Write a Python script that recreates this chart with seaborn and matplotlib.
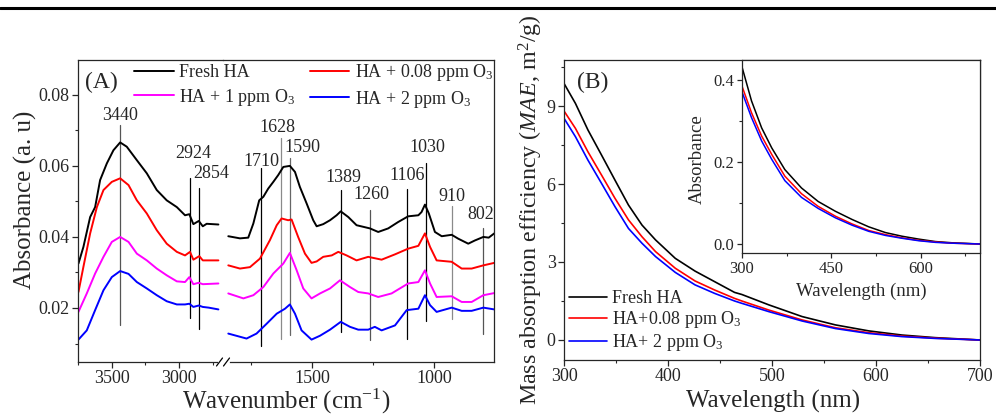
import numpy as np
import pandas as pd
import matplotlib
matplotlib.use("Agg")
import matplotlib.pyplot as plt
from matplotlib.lines import Line2D
from matplotlib.ticker import MultipleLocator, FixedLocator, FormatStrFormatter
import seaborn as sns

# ---------------- DATA: panel A (FTIR) ----------------
# high-wavenumber segment
fresh_w_hi = [3748, 3711, 3661, 3624, 3587, 3537, 3488, 3438, 3389, 3314, 3240, 3166, 3092, 3017, 2956, 2924, 2894, 2854, 2824, 2795, 2708]
fresh_a_hi = [0.0325, 0.0372, 0.0456, 0.0484, 0.0560, 0.0607, 0.0644, 0.0666, 0.0654, 0.0616, 0.0579, 0.0532, 0.0503, 0.0484, 0.0461, 0.0464, 0.0436, 0.0445, 0.0430, 0.0437, 0.0435]
o008_w_hi = [3748, 3711, 3661, 3611, 3562, 3500, 3438, 3376, 3314, 3240, 3166, 3092, 3017, 2956, 2919, 2894, 2850, 2824, 2708]
o008_a_hi = [0.0245, 0.0316, 0.0410, 0.0484, 0.0532, 0.0555, 0.0565, 0.0546, 0.0503, 0.0466, 0.0419, 0.0381, 0.0358, 0.0348, 0.0358, 0.0336, 0.0346, 0.0334, 0.0334]
o1_w_hi = [3748, 3686, 3624, 3562, 3500, 3438, 3376, 3314, 3240, 3166, 3092, 3017, 2956, 2924, 2894, 2854, 2824, 2708]
o1_a_hi = [0.0189, 0.0241, 0.0297, 0.0344, 0.0386, 0.0400, 0.0386, 0.0353, 0.0334, 0.0311, 0.0292, 0.0275, 0.0273, 0.0287, 0.0267, 0.0271, 0.0267, 0.0269]
o2_w_hi = [3748, 3686, 3624, 3562, 3500, 3438, 3376, 3314, 3240, 3166, 3092, 3017, 2956, 2924, 2894, 2854, 2824, 2780, 2708]
o2_a_hi = [0.0111, 0.0137, 0.0194, 0.0250, 0.0287, 0.0304, 0.0296, 0.0273, 0.0255, 0.0236, 0.0219, 0.0210, 0.0210, 0.0212, 0.0203, 0.0207, 0.0203, 0.0201, 0.0196]

# low-wavenumber segment
fresh_w_lo = [1845, 1797, 1763, 1742, 1718, 1701, 1681, 1660, 1640, 1619, 1592, 1571, 1551, 1523, 1496, 1482, 1455, 1427, 1400, 1383, 1352, 1318, 1263, 1229, 1188, 1147, 1106, 1064, 1051, 1037, 1021, 996, 968, 927, 900, 859, 832, 797, 775, 752]
fresh_a_lo = [0.0402, 0.0396, 0.0398, 0.0438, 0.0503, 0.0513, 0.0536, 0.0555, 0.0574, 0.0597, 0.0600, 0.0583, 0.0541, 0.0494, 0.0447, 0.0430, 0.0436, 0.0447, 0.0461, 0.0472, 0.0456, 0.0433, 0.0424, 0.0414, 0.0424, 0.0442, 0.0458, 0.0461, 0.0470, 0.0491, 0.0466, 0.0414, 0.0402, 0.0406, 0.0395, 0.0381, 0.0390, 0.0400, 0.0398, 0.0410]
o008_w_lo = [1845, 1797, 1756, 1715, 1674, 1646, 1626, 1599, 1585, 1558, 1530, 1503, 1482, 1455, 1420, 1393, 1359, 1318, 1270, 1215, 1160, 1106, 1064, 1037, 1016, 989, 927, 886, 845, 797, 752]
o008_a_lo = [0.0320, 0.0311, 0.0315, 0.0339, 0.0391, 0.0433, 0.0452, 0.0447, 0.0449, 0.0400, 0.0353, 0.0327, 0.0331, 0.0344, 0.0348, 0.0358, 0.0348, 0.0334, 0.0344, 0.0336, 0.0351, 0.0367, 0.0375, 0.0410, 0.0372, 0.0334, 0.0330, 0.0311, 0.0311, 0.0320, 0.0327]
o1_w_lo = [1845, 1783, 1742, 1701, 1660, 1619, 1592, 1564, 1537, 1503, 1468, 1427, 1386, 1345, 1311, 1270, 1229, 1174, 1106, 1064, 1037, 1016, 989, 927, 886, 845, 797, 752]
o1_a_lo = [0.0241, 0.0227, 0.0236, 0.0259, 0.0297, 0.0325, 0.0355, 0.0306, 0.0255, 0.0227, 0.0241, 0.0255, 0.0278, 0.0259, 0.0245, 0.0241, 0.0231, 0.0241, 0.0269, 0.0273, 0.0306, 0.0269, 0.0231, 0.0233, 0.0217, 0.0217, 0.0236, 0.0242]
o2_w_lo = [1845, 1770, 1729, 1687, 1646, 1612, 1592, 1571, 1544, 1503, 1468, 1427, 1383, 1345, 1311, 1270, 1243, 1215, 1160, 1112, 1064, 1037, 1016, 989, 927, 886, 845, 797, 752]
o2_a_lo = [0.0128, 0.0114, 0.0128, 0.0156, 0.0184, 0.0198, 0.0210, 0.0184, 0.0137, 0.0111, 0.0122, 0.0139, 0.0161, 0.0147, 0.0139, 0.0139, 0.0147, 0.0137, 0.0151, 0.0194, 0.0198, 0.0236, 0.0208, 0.0189, 0.0201, 0.0192, 0.0192, 0.0201, 0.0196]

series_A = ["Fresh HA", "HA + 0.08 ppm O$_3$", "HA + 1 ppm O$_3$", "HA + 2 ppm O$_3$"]

peak_labels = ["3440", "2924", "2854", "1710", "1628", "1590", "1389", "1260", "1106", "1030", "910", "802"]
peak_pos = [3438, 2919, 2854, 1711, 1630, 1593, 1383, 1263, 1110, 1034, 927, 799]
peak_top = [0.0715, 0.0567, 0.0539, 0.0593, 0.0679, 0.0621, 0.0532, 0.0475, 0.0536, 0.0607, 0.0487, 0.0424]
peak_bottom = [0.0151, 0.0173, 0.0142, 0.0093, 0.0114, 0.0123, 0.0133, 0.0109, 0.0114, 0.0164, 0.0170, 0.0128]

# ---------------- DATA: panel B (UV-vis) ----------------
lam = [300, 311, 323, 336, 349, 362, 375, 388, 407, 426, 445, 464, 471, 497, 529, 561, 593, 625, 657, 700]
mae_fresh = [9.87, 9.10, 8.08, 7.12, 6.15, 5.19, 4.42, 3.85, 3.14, 2.65, 2.24, 1.83, 1.75, 1.35, 0.90, 0.58, 0.35, 0.19, 0.09, 0.0]
mae_008 = [8.81, 8.14, 7.24, 6.35, 5.45, 4.62, 3.97, 3.40, 2.76, 2.27, 1.92, 1.60, 1.50, 1.15, 0.77, 0.47, 0.28, 0.15, 0.07, 0.0]
mae_2 = [8.53, 7.82, 6.92, 6.03, 5.13, 4.29, 3.72, 3.21, 2.60, 2.12, 1.79, 1.50, 1.41, 1.09, 0.73, 0.44, 0.25, 0.13, 0.06, 0.0]
series_B = ["Fresh HA", "HA+0.08 ppm O$_3$", "HA+ 2 ppm O$_3$"]

lam_in = [300, 316, 333, 350, 372, 400, 428, 457, 485, 513, 541, 569, 597, 625, 653, 700]
abs_fresh = [0.433, 0.350, 0.284, 0.235, 0.182, 0.137, 0.104, 0.080, 0.060, 0.042, 0.028, 0.019, 0.012, 0.006, 0.003, 0.0]
abs_008 = [0.386, 0.321, 0.264, 0.219, 0.166, 0.123, 0.092, 0.068, 0.049, 0.033, 0.023, 0.015, 0.009, 0.005, 0.002, 0.0]
abs_2 = [0.372, 0.309, 0.252, 0.207, 0.155, 0.114, 0.087, 0.064, 0.046, 0.031, 0.021, 0.014, 0.008, 0.004, 0.002, 0.0]

# ---------------- STYLE ----------------
sns.set_style("ticks")
plt.rcParams["font.family"] = ["Liberation Serif", "DejaVu Serif"]
plt.rcParams["mathtext.fontset"] = "custom"
plt.rcParams["mathtext.rm"] = "Liberation Serif"
plt.rcParams["mathtext.it"] = "Liberation Serif:italic"
plt.rcParams["axes.linewidth"] = 0.9

W, H = 996, 419
fig = plt.figure(figsize=(W / 100, H / 100), dpi=100)

def fx(px):
    return px / W

def fy(py):
    return 1 - py / H

colA = ["#000000", "#ff0000", "#ff00ff", "#0000ff"]
colB = ["#000000", "#ff0000", "#0000ff"]

axL = fig.add_axes([fx(77.5), fy(362), fx(222.7 - 77.5), (362 - 60) / H])
axR = fig.add_axes([fx(222.7), fy(362), fx(494.3 - 222.7), (362 - 60) / H])

hi_sets = [(fresh_w_hi, fresh_a_hi), (o008_w_hi, o008_a_hi), (o1_w_hi, o1_a_hi), (o2_w_hi, o2_a_hi)]
lo_sets = [(fresh_w_lo, fresh_a_lo), (o008_w_lo, o008_a_lo), (o1_w_lo, o1_a_lo), (o2_w_lo, o2_a_lo)]
for (w, a), c, name in zip(hi_sets, colA, series_A):
    sns.lineplot(x=w, y=a, ax=axL, color=c, lw=1.4, label=name, legend=False, sort=False, estimator=None)
for (w, a), c in zip(lo_sets, colA):
    sns.lineplot(x=w, y=a, ax=axR, color=c, lw=1.4, legend=False, sort=False, estimator=None)

ylimA = (0.0048, 0.0898)
for ax in (axL, axR):
    ax.set_ylim(*ylimA)
    ax.set_xlabel("")
    ax.set_ylabel("")
axL.set_xlim(3755, 2676)
axR.set_xlim(1868, 752)

axL.xaxis.set_major_locator(FixedLocator([3500, 3000]))
axL.xaxis.set_minor_locator(FixedLocator([3750, 3250, 2750]))
axR.xaxis.set_major_locator(FixedLocator([1500, 1000]))
axR.xaxis.set_minor_locator(FixedLocator([1750, 1250]))
axL.yaxis.set_major_locator(MultipleLocator(0.02))
axL.yaxis.set_minor_locator(MultipleLocator(0.01))
axL.yaxis.set_major_formatter(FormatStrFormatter("%.2f"))

axL.spines["right"].set_visible(False)
axR.spines["left"].set_visible(False)
axR.tick_params(axis="y", which="both", left=False, labelleft=False)
axL.spines["bottom"].set_bounds(3755, 2718)
axR.spines["bottom"].set_bounds(1838, 752)

for ax in (axL, axR):
    ax.tick_params(axis="both", which="major", direction="out", length=4, width=0.9, labelsize=13, pad=2)
    ax.tick_params(axis="both", which="minor", direction="out", length=2.5, width=0.8)
    ax.set_facecolor("none")

# peak marker lines
gray_peaks = {"3440": "#555555", "1628": "#8a8a8a", "1590": "#666666", "1260": "#555555", "910": "#8a8a8a", "802": "#555555"}
label_xy = {"3440": (3438, 0.0743), "2924": (2896, 0.0636), "2854": (2763, 0.0579),
            "1710": (1711, 0.0613), "1628": (1643, 0.0709), "1590": (1542, 0.0653),
            "1389": (1374, 0.0568), "1260": (1255, 0.0520), "1106": (1111, 0.0574),
            "1030": (1026, 0.0653), "910": (927, 0.0513), "802": (809, 0.0463)}
for lab, pos, top, bot in zip(peak_labels, peak_pos, peak_top, peak_bottom):
    ax = axL if pos > 2000 else axR
    ax.plot([pos, pos], [bot, top], color=gray_peaks.get(lab, "#000000"), lw=0.9, zorder=1)
    tx, ty = label_xy[lab]
    ax.text(tx, ty, lab, ha="center", va="center", fontsize=13, clip_on=False)

# break marks
for x0 in (216.5, 223.5):
    fig.add_artist(Line2D([fx(x0), fx(x0 + 6)], [fy(366), fy(358)], color="black", lw=0.9))

# legend A
hL = axL.get_lines()[:4]
order = [0, 2, 1, 3]
fig.legend([hL[i] for i in order], [series_A[i] for i in order], ncol=2, loc="upper left",
           bbox_to_anchor=(fx(134), fy(62)), frameon=False, fontsize=13,
           handlelength=2.2, handletextpad=0.3, columnspacing=0.8, labelspacing=0.32,
           borderpad=0, borderaxespad=0)

fig.text(fx(85), fy(82), "(A)", fontsize=17, ha="left", va="center")
fig.text(fx(25), fy(200), "Absorbance (a. u)", fontsize=18, rotation=90, ha="center", va="center")
fig.text(fx(286), fy(401), "Wavenumber (cm$^{-1}$)", fontsize=18, ha="center", va="center")

# ---------------- panel B ----------------
axB = fig.add_axes([fx(564), fy(360), fx(416), 300 / H])
for y, c, name in zip([mae_fresh, mae_008, mae_2], colB, series_B):
    sns.lineplot(x=lam, y=y, ax=axB, color=c, lw=1.2, label=name, legend=False, sort=False, estimator=None)
axB.set_xlim(300, 700)
axB.set_ylim(-0.77, 10.77)
axB.xaxis.set_major_locator(MultipleLocator(100))
axB.xaxis.set_minor_locator(MultipleLocator(50))
axB.yaxis.set_major_locator(MultipleLocator(3))
axB.yaxis.set_minor_locator(FixedLocator([1.5, 4.5, 7.5, 10.5]))
axB.tick_params(axis="both", which="major", direction="out", length=4, width=0.9, labelsize=13, pad=2)
axB.tick_params(axis="both", which="minor", direction="out", length=2.5, width=0.8)
axB.set_xlabel("")
axB.set_ylabel("")
for s in axB.spines.values():
    s.set_visible(True)
axB.legend(loc="lower left", bbox_to_anchor=(fx(569), fy(353)), bbox_transform=fig.transFigure,
           frameon=False, fontsize=13, handlelength=2.1, handletextpad=0.3, labelspacing=0.1,
           borderpad=0, borderaxespad=0)
fig.text(fx(577), fy(82), "(B)", fontsize=17, ha="left", va="center")
fig.text(fx(531), fy(210), "Mass absorption efficiency ($MAE$, m$^2$/g)", fontsize=17.3, rotation=90,
         ha="center", va="center")
fig.text(fx(773), fy(401), "Wavelength (nm)", fontsize=18, ha="center", va="center")

# inset
axI = fig.add_axes([fx(742), fy(253), fx(238), 193 / H])
for y, c in zip([abs_fresh, abs_008, abs_2], colB):
    sns.lineplot(x=lam_in, y=y, ax=axI, color=c, lw=1.1, legend=False, sort=False, estimator=None)
axI.set_xlim(300, 700)
axI.set_ylim(-0.022, 0.45)
axI.xaxis.set_major_locator(FixedLocator([300, 450, 600]))
axI.xaxis.set_minor_locator(FixedLocator([375, 525, 675]))
axI.yaxis.set_major_locator(MultipleLocator(0.2))
axI.yaxis.set_minor_locator(FixedLocator([0.1, 0.3]))
axI.yaxis.set_major_formatter(FormatStrFormatter("%.1f"))
axI.tick_params(axis="both", which="major", direction="out", length=3.5, width=0.9, labelsize=12, pad=2)
axI.tick_params(axis="both", which="minor", direction="out", length=2.2, width=0.8)
axI.set_xlabel("")
axI.set_ylabel("")
for s in axI.spines.values():
    s.set_visible(True)
fig.text(fx(697), fy(159), "Absorbance", fontsize=13.5, rotation=90, ha="center", va="center")
fig.text(fx(861), fy(291), "Wavelength (nm)", fontsize=13.5, ha="center", va="center")

# top rule
fig.add_artist(Line2D([0, 1], [fy(8), fy(8)], color="black", lw=2.2))

fig.savefig("out.png", dpi=100)
